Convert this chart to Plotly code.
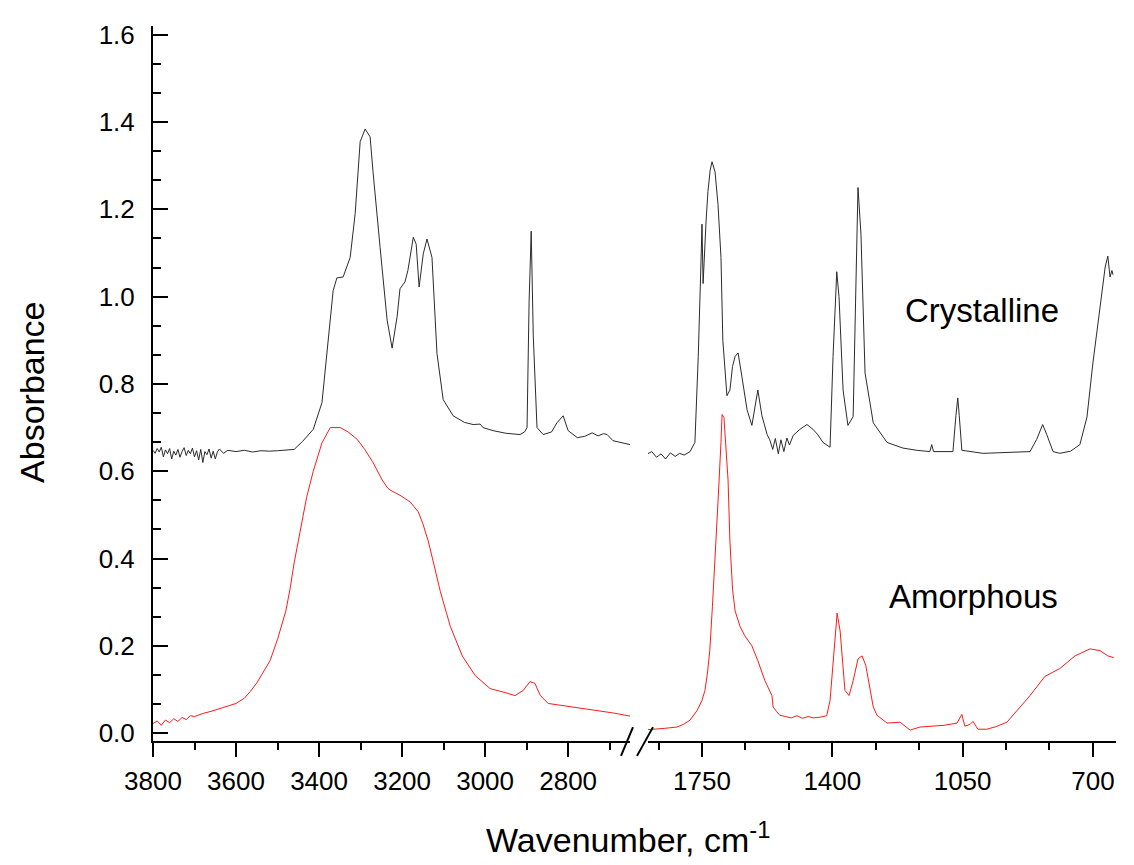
import plotly.graph_objects as go

# ---------------- data ----------------
cry_left_wn = [3800, 3795, 3790, 3785, 3780, 3775, 3770, 3765, 3760, 3755, 3750, 3745, 3740, 3735, 3730,
               3725, 3720, 3715, 3710, 3705, 3700, 3695, 3690, 3685, 3680, 3675, 3670, 3665, 3660, 3655,
               3650, 3645, 3640, 3630, 3620, 3600, 3580, 3560, 3540, 3520, 3500, 3480, 3460, 3440,
               3414, 3393, 3378, 3366, 3357, 3342, 3325, 3313, 3301, 3289, 3277, 3270, 3253, 3236,
               3224, 3212, 3205, 3193, 3186, 3173, 3166, 3159, 3149, 3140, 3128, 3116, 3101, 3077,
               3050, 3029, 3012, 3005, 2981, 2950, 2916, 2905, 2899, 2894, 2889, 2884, 2875, 2860,
               2840, 2827, 2812, 2800, 2778, 2760, 2742, 2735, 2728, 2715, 2706, 2692, 2670, 2651]
cry_left_ab = [0.648, 0.641, 0.652, 0.644, 0.655, 0.633, 0.649, 0.640, 0.652, 0.628, 0.646, 0.637, 0.650, 0.632, 0.645,
               0.654, 0.636, 0.648, 0.640, 0.653, 0.633, 0.647, 0.626, 0.650, 0.620, 0.645, 0.638, 0.651, 0.630, 0.646,
               0.628, 0.644, 0.651, 0.641, 0.648, 0.645, 0.648, 0.644, 0.647, 0.646, 0.647, 0.648, 0.650, 0.668,
               0.696, 0.757, 0.909, 1.014, 1.043, 1.045, 1.090, 1.190, 1.355, 1.384, 1.366, 1.286, 1.113, 0.946,
               0.882, 0.954, 1.018, 1.034, 1.060, 1.136, 1.120, 1.022, 1.098, 1.132, 1.090, 0.870, 0.764, 0.727,
               0.712, 0.707, 0.708, 0.700, 0.693, 0.687, 0.684, 0.690, 0.700, 0.990, 1.150, 0.910, 0.700, 0.684,
               0.690, 0.711, 0.727, 0.693, 0.677, 0.680, 0.688, 0.684, 0.681, 0.686, 0.684, 0.670, 0.665, 0.661]

cry_right_wn = [1898, 1885, 1872, 1860, 1848, 1835, 1822, 1810, 1798, 1782, 1769, 1760, 1752, 1750, 1747,
                1744, 1739, 1734, 1728, 1723, 1715, 1707, 1699, 1694, 1683, 1675, 1668, 1661, 1653, 1643,
                1629, 1616, 1600, 1589, 1575, 1568, 1560, 1553, 1545, 1538, 1530, 1522, 1515, 1505, 1487,
                1468, 1452, 1440, 1425, 1406, 1398, 1388, 1382, 1371, 1358, 1344, 1336, 1331, 1323, 1312,
                1290, 1253, 1210, 1173, 1138, 1133, 1128, 1076, 1068, 1063, 1059, 1052, 995, 930, 869,
                851, 835, 824, 807, 789, 760, 735, 716, 700, 681, 667, 660, 654, 649, 646]
cry_right_ab = [0.639, 0.645, 0.632, 0.640, 0.628, 0.642, 0.634, 0.641, 0.637, 0.645, 0.666, 0.863, 1.100, 1.166, 1.030,
                1.100, 1.173, 1.241, 1.290, 1.309, 1.286, 1.211, 1.090, 0.900, 0.773, 0.786, 0.840, 0.863, 0.871, 0.818,
                0.741, 0.705, 0.786, 0.727, 0.684, 0.672, 0.650, 0.675, 0.640, 0.672, 0.645, 0.676, 0.660, 0.682, 0.696,
                0.707, 0.696, 0.685, 0.666, 0.655, 0.863, 1.057, 1.000, 0.786, 0.705, 0.725, 1.090, 1.250, 1.143, 0.825,
                0.711, 0.666, 0.653, 0.648, 0.645, 0.661, 0.645, 0.645, 0.727, 0.768, 0.727, 0.648, 0.641, 0.643, 0.645,
                0.673, 0.707, 0.684, 0.645, 0.641, 0.646, 0.661, 0.724, 0.848, 0.977, 1.068, 1.093, 1.045, 1.060, 1.050]

amo_left_wn = [3800, 3790, 3780, 3770, 3760, 3750, 3740, 3730, 3720, 3710, 3700, 3680, 3660, 3640, 3620,
               3600, 3580, 3566, 3550, 3535, 3518, 3500, 3480, 3470, 3460, 3446, 3430, 3414, 3393, 3373,
               3349, 3330, 3308, 3290, 3270, 3248, 3235, 3229, 3205, 3181, 3161, 3150, 3137, 3123, 3108,
               3084, 3055, 3024, 2988, 2952, 2928, 2908, 2892, 2880, 2867, 2848, 2819, 2771, 2723, 2690, 2651]
amo_left_ab = [0.022, 0.028, 0.018, 0.030, 0.024, 0.033, 0.027, 0.036, 0.031, 0.040, 0.038, 0.045, 0.050, 0.056, 0.062,
               0.068, 0.080, 0.095, 0.115, 0.140, 0.166, 0.215, 0.280, 0.330, 0.390, 0.460, 0.540, 0.600, 0.665, 0.700,
               0.700, 0.690, 0.673, 0.650, 0.620, 0.580, 0.562, 0.557, 0.545, 0.530, 0.507, 0.480, 0.440, 0.385, 0.325,
               0.245, 0.177, 0.132, 0.102, 0.093, 0.086, 0.098, 0.118, 0.114, 0.086, 0.068, 0.064, 0.057, 0.050, 0.046, 0.039]

amo_right_wn = [1895, 1876, 1850, 1817, 1800, 1782, 1763, 1750, 1742, 1735, 1729, 1722, 1715, 1707, 1699,
                1696, 1691, 1685, 1680, 1675, 1668, 1661, 1648, 1635, 1616, 1600, 1581, 1562, 1559, 1550,
                1541, 1525, 1510, 1495, 1480, 1465, 1450, 1430, 1415, 1406, 1398, 1392, 1387, 1379, 1372,
                1366, 1355, 1344, 1331, 1320, 1310, 1299, 1290, 1280, 1253, 1218, 1191, 1164, 1130, 1100,
                1065, 1052, 1044, 1030, 1022, 1009, 985, 960, 931, 896, 869, 829, 789, 748, 708, 681, 660, 644]
amo_right_ab = [0.008, 0.009, 0.011, 0.014, 0.020, 0.030, 0.052, 0.075, 0.098, 0.140, 0.190, 0.290, 0.390, 0.530, 0.666,
                0.730, 0.723, 0.650, 0.580, 0.440, 0.330, 0.280, 0.245, 0.223, 0.200, 0.166, 0.120, 0.086, 0.060, 0.050,
                0.041, 0.038, 0.035, 0.040, 0.034, 0.038, 0.035, 0.037, 0.040, 0.075, 0.160, 0.240, 0.275, 0.234, 0.150,
                0.098, 0.086, 0.120, 0.170, 0.177, 0.155, 0.098, 0.060, 0.041, 0.023, 0.025, 0.007, 0.014, 0.016, 0.018,
                0.023, 0.043, 0.016, 0.020, 0.027, 0.009, 0.009, 0.015, 0.025, 0.060, 0.086, 0.130, 0.148, 0.177, 0.193,
                0.189, 0.177, 0.173]

y_ticks = [0.0, 0.2, 0.4, 0.6, 0.8, 1.0, 1.2, 1.4, 1.6]
y_ticklabels = ["0.0", "0.2", "0.4", "0.6", "0.8", "1.0", "1.2", "1.4", "1.6"]
left_ticks = [3800, 3600, 3400, 3200, 3000, 2800]
right_ticks = [1750, 1400, 1050, 700]

# ---------------- figure ----------------
# the page body adds an 8 px margin; figure coordinates = screen coordinates - 8
FONT = "Liberation Sans, Arial, sans-serif"
OFF = 8
W, H = 1134 - OFF, 865 - OFF
PLOT_L, PLOT_R, PLOT_T, PLOT_B = 153, 1116, 20, 741   # screen px of plot area
ML, MT = PLOT_L - OFF, PLOT_T - OFF
MR = W - (PLOT_R - OFF)
MB = H - (PLOT_B - OFF)
PW, PH = PLOT_R - PLOT_L, PLOT_B - PLOT_T


def px_x(p):
    return (p - PLOT_L) / PW


def px_y(p):
    return (PLOT_B - p) / PH


black = "#2b2b2b"
red = "#ff1a1a"

fig = go.Figure()
fig.add_trace(go.Scatter(x=cry_left_wn, y=cry_left_ab, xaxis="x", yaxis="y", mode="lines",
                         line=dict(color=black, width=1), showlegend=False))
fig.add_trace(go.Scatter(x=cry_right_wn, y=cry_right_ab, xaxis="x2", yaxis="y", mode="lines",
                         line=dict(color=black, width=1), showlegend=False))
fig.add_trace(go.Scatter(x=amo_left_wn, y=amo_left_ab, xaxis="x", yaxis="y", mode="lines",
                         line=dict(color=red, width=1), showlegend=False))
fig.add_trace(go.Scatter(x=amo_right_wn, y=amo_right_ab, xaxis="x2", yaxis="y", mode="lines",
                         line=dict(color=red, width=1), showlegend=False))

tickfont = dict(family=FONT, size=26, color="black")

fig.update_layout(
    width=W, height=H,
    margin=dict(l=ML, r=MR, t=MT, b=MB, pad=0),
    paper_bgcolor="white", plot_bgcolor="white",
    showlegend=False,
    xaxis=dict(domain=[0, px_x(630)], range=[3800, 2651], anchor="y",
               tickmode="array", tickvals=left_ticks, ticktext=[str(v) for v in left_ticks],
               ticks="outside", ticklen=14, tickwidth=2, tickcolor="black",
               minor=dict(dtick=100, tick0=3800, ticks="outside", ticklen=7, tickwidth=2, tickcolor="black"),
               showline=True, linecolor="black", linewidth=2, showgrid=False, zeroline=False,
               tickfont=tickfont, ticklabelstandoff=2),
    xaxis2=dict(domain=[px_x(648), 1.0], range=[1895, 638], anchor="y",
                tickmode="array", tickvals=right_ticks, ticktext=[str(v) for v in right_ticks],
                ticks="outside", ticklen=14, tickwidth=2, tickcolor="black",
                minor=dict(dtick=350 / 3, tick0=700, ticks="outside", ticklen=7, tickwidth=2, tickcolor="black"),
                showline=True, linecolor="black", linewidth=2, showgrid=False, zeroline=False,
                tickfont=tickfont, ticklabelstandoff=2),
    yaxis=dict(range=[-0.018, 1.62], anchor="x",
               tickmode="array", tickvals=y_ticks, ticktext=y_ticklabels,
               ticks="inside", ticklen=15, tickwidth=2, tickcolor="black",
               minor=dict(dtick=0.2 / 3, tick0=0, ticks="inside", ticklen=8, tickwidth=2, tickcolor="black"),
               showline=True, linecolor="black", linewidth=2, showgrid=False, zeroline=False,
               tickfont=tickfont, ticklabelstandoff=11),
)

# axis-break marks
for (x0, y0, x1, y1) in [(621, 756, 633, 727), (637, 756, 653, 727)]:
    fig.add_shape(type="line", xref="paper", yref="paper",
                  x0=px_x(x0), y0=px_y(y0), x1=px_x(x1), y1=px_y(y1),
                  line=dict(color="black", width=2))

# titles
fig.add_annotation(text="Wavenumber, cm<sup>-1</sup>", xref="paper", yref="paper",
                   x=px_x(628), y=px_y(838), xanchor="center", yanchor="middle",
                   showarrow=False, font=dict(family=FONT, size=34, color="black"))
fig.add_annotation(text="Absorbance", xref="paper", yref="paper",
                   x=px_x(32), y=px_y(390), xanchor="center", yanchor="middle", textangle=-90,
                   showarrow=False, font=dict(family=FONT, size=34, color="black"))

# series labels
fig.add_annotation(text="Crystalline", xref="x2", yref="y", x=998, y=0.968,
                   xanchor="center", yanchor="middle", showarrow=False,
                   font=dict(family=FONT, size=33, color="black"))
fig.add_annotation(text="Amorphous", xref="x2", yref="y", x=1022, y=0.314,
                   xanchor="center", yanchor="middle", showarrow=False,
                   font=dict(family=FONT, size=33, color="black"))

fig.write_html("out.html")
